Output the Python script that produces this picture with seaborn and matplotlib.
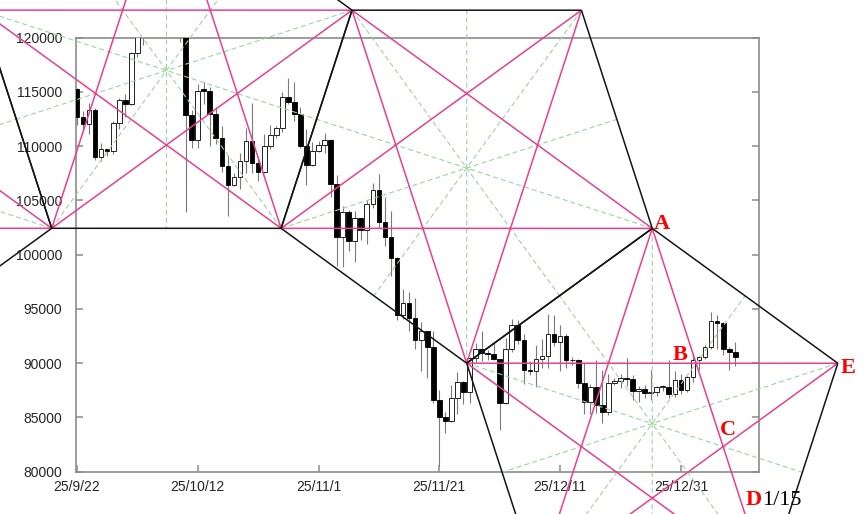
import numpy as np
import pandas as pd
import matplotlib
matplotlib.use("Agg")
import matplotlib.pyplot as plt
import seaborn as sns

# ---------------- data ----------------
dates = pd.date_range("2025-09-22", "2026-01-09", freq="D")
opens = [115250, 112700, 112050, 113350, 109050, 109700, 109600, 112150, 114300, 113900,
         118550, 120600, 122250, 122400, 123500, 124750, 121400, 123350, 121700, 112850,
         110600, 115300, 115050, 113000, 110750, 108150, 106450, 107200, 108650, 110500,
         108450, 107600, 110050, 111000, 111650, 114550, 114100, 112950, 110050, 108300,
         109600, 110100, 110600, 106550, 101600, 103900, 101300, 103350, 102300, 104700,
         106000, 103050, 101650, 99700, 94400, 95550, 94150, 92150, 92950, 91500,
         86650, 85050, 84700, 86800, 88250, 87350, 90500, 91300, 90900, 90850,
         90400, 86300, 91300, 93500, 92150, 89400, 89300, 90400, 90650, 92700,
         92000, 92500, 90250, 90300, 88150, 86400, 87850, 86150, 85500, 88150,
         88400, 88650, 88500, 87400, 87650, 87250, 87300, 87800, 87850, 87150,
         88450, 87500, 88700, 90300, 90600, 91500, 93900, 93700, 91300, 91050]
highs = [115400, 113250, 113950, 113500, 110300, 109750, 112350, 114450, 114800, 118650,
         121000, 123900, 122900, 125700, 126200, 125100, 124100, 123800, 122500, 113300,
         115700, 115900, 115500, 113600, 111900, 109200, 107500, 109400, 111700, 114000,
         109100, 111100, 112000, 111900, 115000, 116300, 115900, 113600, 111600, 110400,
         110500, 111200, 110700, 107300, 104500, 104100, 104000, 103400, 105000, 106600,
         107400, 105300, 104000, 99800, 96800, 96600, 96000, 93800, 92950, 93000,
         87500, 85500, 88000, 89200, 88400, 90600, 91900, 93000, 91200, 92000,
         90400, 92300, 94100, 94000, 92700, 90200, 91700, 92200, 94500, 94400,
         93500, 92700, 90600, 90400, 90000, 88100, 90300, 89400, 89000, 88600,
         89000, 90500, 88900, 87900, 88000, 89400, 87900, 88000, 90300, 89300,
         89000, 88800, 90900, 90700, 91700, 94750, 94400, 93800, 91500, 92000]
lows = [112000, 111500, 111100, 108700, 108650, 109100, 109300, 111600, 112700, 113800,
        118200, 119300, 121600, 122200, 123100, 120600, 121100, 119600, 103900, 109800,
        109800, 113900, 110000, 110200, 107600, 103600, 106300, 106100, 107500, 107500,
        106800, 107500, 109700, 110800, 111300, 113900, 112300, 109800, 106400, 108200,
        109500, 109400, 105300, 98950, 98900, 100300, 99300, 101400, 101000, 104300,
        102500, 100800, 98000, 94000, 94100, 93000, 91300, 89250, 88600, 86300,
        80550, 83600, 84600, 85300, 86200, 86300, 90100, 90200, 90300, 90300,
        83850, 86200, 91000, 91800, 88100, 88900, 87800, 89600, 89600, 91600,
        89300, 89600, 89800, 87700, 85300, 85300, 85400, 84500, 85200, 88000,
        87700, 87900, 86600, 86400, 86800, 86600, 87000, 87400, 86800, 86900,
        87200, 87300, 88300, 89400, 90400, 91300, 91300, 90800, 89350, 89700]
closes = [112700, 112050, 113350, 109050, 109700, 109600, 112150, 114300, 113900, 118550,
          120600, 122250, 122400, 123500, 124750, 121400, 123350, 121700, 112850, 110600,
          115100, 115050, 113000, 110750, 108150, 106450, 107200, 108650, 110500, 108450,
          107600, 110050, 111000, 111650, 114550, 114100, 112950, 110050, 108300, 109600,
          110100, 110600, 106550, 101600, 103900, 101300, 103350, 102300, 104700, 106000,
          103050, 101650, 99700, 94400, 95550, 94150, 92150, 92950, 91500, 86650,
          85050, 84700, 86800, 88250, 87350, 90500, 91300, 90900, 90850, 90400,
          86300, 91300, 93500, 92150, 89400, 89300, 90400, 90650, 92700, 92000,
          92500, 90250, 90300, 88150, 86400, 87850, 86150, 85500, 88150, 88400,
          88650, 88500, 87400, 87650, 87250, 87300, 87800, 87850, 87150, 88450,
          87500, 88700, 90300, 90600, 91500, 93900, 93700, 91300, 91050, 90550]

tick_dates = ["2025-09-22", "2025-10-12", "2025-11-01", "2025-11-21", "2025-12-11", "2025-12-31"]
tick_labels = ["25/9/22", "25/10/12", "25/11/1", "25/11/21", "25/12/11", "25/12/31"]
y_ticks = [80000, 85000, 90000, 95000, 100000, 105000, 110000, 115000, 120000]

# pivot anchors of the pentagon construction (day offset, price)
pivot_days = [64.53, 95.26]
pivot_prices = [90000, 102424]

# annotation letters (figure pixel positions, y measured from top)
label_texts = ["A", "B", "C", "D", "E"]
label_px = [(661.5, 229), (680, 360), (727.5, 435), (754, 505), (848, 373)]
date_note = "1/15"
date_note_px = (782, 505)

# ---------------- style ----------------
sns.set_theme(style="white")
plt.rcParams["font.family"] = ["Liberation Sans", "DejaVu Sans"]

W, H = 868, 514
fig = plt.figure(figsize=(W / 100, H / 100), dpi=100)
fig.patch.set_facecolor("white")
ax = fig.add_axes([76 / W, 42.3 / H, 683 / W, 434 / H])
ax.set_facecolor("white")

xmin, xmax = -0.15, 112.93
ax.set_xlim(xmin, xmax)
ax.set_ylim(80000, 120000)
ax.set_autoscale_on(False)

# ---------------- candles ----------------
o = np.array(opens, float)
c = np.array(closes, float)
hi = np.array(highs, float)
lo = np.array(lows, float)
xs = np.arange(len(dates))
up = c >= o
ax.vlines(xs, lo, hi, color="#7a7a7a", lw=0.8, zorder=2)
body_h = np.maximum(np.abs(c - o), 90)
ax.bar(xs, body_h, bottom=np.minimum(o, c), width=0.78,
       color=np.where(up, "white", "black"), edgecolor="black", linewidth=0.6, zorder=3)

# ---------------- axes styling ----------------
start = dates[0]
tick_pos = [(pd.Timestamp(t) - start).days for t in tick_dates]
ax.set_xticks(tick_pos)
ax.set_xticklabels(tick_labels)
ax.set_yticks(y_ticks)
ax.set_yticklabels([str(v) for v in y_ticks])
ax.tick_params(axis="y", which="major", direction="in", left=True, right=True,
               labelright=False, length=5, width=1.1, color="#8c8c8c", pad=10,
               labelsize=10, labelcolor="#262626")
ax.tick_params(axis="x", which="major", direction="in", bottom=True, top=False,
               length=5, width=1.1, color="#8c8c8c", pad=6,
               labelsize=10, labelcolor="#262626")
for sp in ax.spines.values():
    sp.set_visible(True)
    sp.set_color("#8c8c8c")
    sp.set_linewidth(1.2)
ax.grid(False)

# ---------------- pentagon overlay ----------------
tr = ax.transData
inv = tr.inverted()
P0 = np.array(tr.transform((pivot_days[0], pivot_prices[0])))
P1 = np.array(tr.transform((pivot_days[1], pivot_prices[1])))
edge = P1 - P0
side = np.hypot(*edge)
theta = np.arctan2(edge[1], edge[0])
M = [P0]
for k in range(4):
    ang = theta + np.deg2rad(72 * k)
    M.append(M[-1] + side * np.array([np.cos(ang), np.sin(ang)]))
M = np.array(M)


def reflect(points, a, b):
    d = (b - a) / np.linalg.norm(b - a)
    v = points - a
    proj = (v @ d)[:, None] * d
    return a + 2 * proj - v


R = reflect(M, M[0], M[1])
L = reflect(M, M[4], M[3])
F = reflect(L, L[0], L[1])

PINK = "#E9408D"
BLACK = "#151515"
GREEN = "#9fd3a0"


def seg(p, q, **kw):
    pts = inv.transform(np.vstack([p, q]))
    ax.plot(pts[:, 0], pts[:, 1], clip_on=False, solid_capstyle="butt", **kw)


for P in (F, L, M, R):
    for i in range(5):
        mid = (P[(i + 2) % 5] + P[(i + 3) % 5]) / 2
        seg(P[i], mid, color=GREEN, lw=0.8, ls=(0, (4.5, 2.8)), zorder=4)
for P in (F, L, M, R):
    for i in range(5):
        seg(P[i], P[(i + 2) % 5], color=PINK, lw=1.1, zorder=5)
for P in (F, L, M, R):
    for i in range(5):
        seg(P[i], P[(i + 1) % 5], color=BLACK, lw=1.1, zorder=6)

# ---------------- labels ----------------
for t, (px, py) in zip(label_texts, label_px):
    fig.text(px / W, 1 - py / H, t, ha="center", va="baseline", color="#ff0000",
             fontsize=16, fontweight="bold", family=["Liberation Serif", "DejaVu Serif"])
fig.text(date_note_px[0] / W, 1 - date_note_px[1] / H, date_note, ha="center",
         va="baseline", color="black", fontsize=16,
         family=["Liberation Serif", "DejaVu Serif"])

fig.savefig("out.png", dpi=100)
